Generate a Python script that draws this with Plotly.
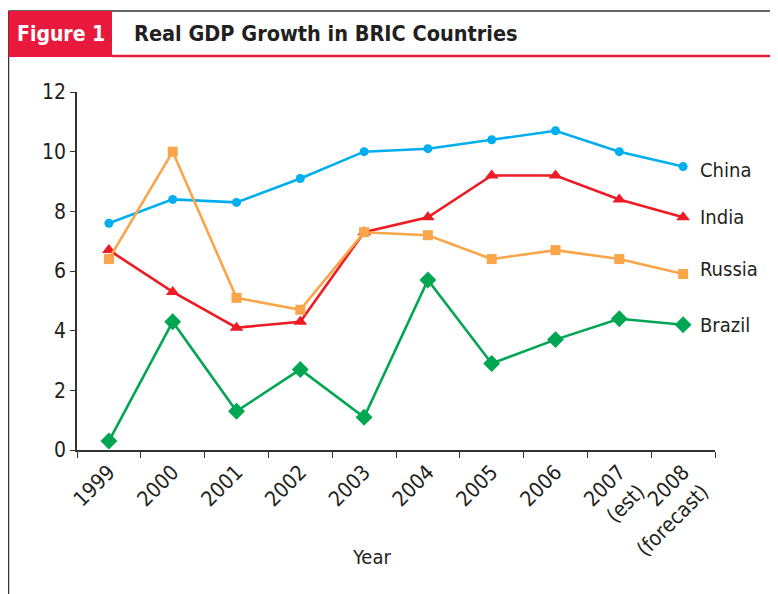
import plotly.graph_objects as go

years = ["1999", "2000", "2001", "2002", "2003", "2004", "2005", "2006",
         "2007<br>(est)", "2008<br>(forecast)"]
china = [7.6, 8.4, 8.3, 9.1, 10.0, 10.1, 10.4, 10.7, 10.0, 9.5]
india = [6.7, 5.3, 4.1, 4.3, 7.3, 7.8, 9.2, 9.2, 8.4, 7.8]
russia = [6.4, 10.0, 5.1, 4.7, 7.3, 7.2, 6.4, 6.7, 6.4, 5.9]
brazil = [0.3, 4.3, 1.3, 2.7, 1.1, 5.7, 2.9, 3.7, 4.4, 4.2]

series = [
    ("China", china, "#00aeef", "circle", 9, -3),
    ("India", india, "#ed1c24", "triangle-up", 12, 0),
    ("Russia", russia, "#f9a54a", "square", 10, 5),
    ("Brazil", brazil, "#00a651", "diamond", 13, 0),
]

FONT = "Liberation Sans Narrow, DejaVu Sans Condensed, Roboto Condensed, Roboto, sans-serif"
TXT = "#231f20"
RED = "#e8193c"

fig = go.Figure()
for name, vals, col, sym, size, dy in series:
    fig.add_trace(go.Scatter(
        x=years, y=vals, mode="lines+markers", name=name,
        line=dict(color=col, width=2.6),
        marker=dict(symbol=sym, size=size, color=col),
        cliponaxis=False, showlegend=False,
    ))
    fig.add_annotation(x=years[-1], y=vals[-1], text=name, showarrow=False,
                       xanchor="left", yanchor="middle", xshift=15, yshift=dy,
                       font=dict(family=FONT, size=20, color=TXT))

# page offset (body margin) of 8px
OFF = 8
L, R, T, B = 77, 715, 92, 450   # plot area in page pixels
W, H = 770, 586                 # figure size
def px(x):
    return (x - L) / (R - L)
def py(y):
    return (B - y) / (B - T)

shapes = [
    dict(type="line", xref="paper", yref="paper", x0=px(8.5), x1=px(800),
         y0=py(11), y1=py(11), line=dict(color="#333333", width=1.5)),
    dict(type="line", xref="paper", yref="paper", x0=px(8.5), x1=px(8.5),
         y0=py(11), y1=py(600), line=dict(color="#333333", width=1.5)),
    dict(type="rect", xref="paper", yref="paper", x0=px(8.5), x1=px(112),
         y0=py(57), y1=py(11), fillcolor=RED, line=dict(width=0)),
    dict(type="line", xref="paper", yref="paper", x0=px(112), x1=px(800),
         y0=py(56), y1=py(56), line=dict(color=RED, width=2.5)),
]

fig.update_layout(
    width=W, height=H,
    margin=dict(l=L - OFF, r=W - (R - OFF), t=T - OFF, b=H - (B - OFF), pad=0),
    paper_bgcolor="white", plot_bgcolor="white",
    font=dict(family=FONT, size=20, color=TXT),
    shapes=shapes,
    xaxis=dict(type="category", range=[-0.5, 9.5], tickson="boundaries",
               ticks="outside", ticklen=6, tickcolor="#333333", tickwidth=1.3,
               showline=True, linecolor="#333333", linewidth=1.5,
               showgrid=False, zeroline=False, tickangle=-45,
               tickfont=dict(family=FONT, size=21, color=TXT)),
    yaxis=dict(range=[0, 12], tickvals=[0, 2, 4, 6, 8, 10, 12],
               ticks="outside", ticklen=5, tickcolor="#333333", tickwidth=1.3,
               showline=True, linecolor="#333333", linewidth=1.5,
               showgrid=False, zeroline=False,
               tickfont=dict(family=FONT, size=21, color=TXT)),
    annotations=list(fig.layout.annotations) + [
        dict(xref="paper", yref="paper", x=px(61), y=py(34), text="<b>Figure 1</b>",
             showarrow=False, xanchor="center", yanchor="middle",
             font=dict(family=FONT, size=21, color="white")),
        dict(xref="paper", yref="paper", x=px(132), y=py(34),
             text="<b>Real GDP Growth in BRIC Countries</b>",
             showarrow=False, xanchor="left", yanchor="middle",
             font=dict(family=FONT, size=21.5, color=TXT)),
        dict(xref="paper", yref="paper", x=px(371), y=py(557), text="Year",
             showarrow=False, xanchor="center", yanchor="middle",
             font=dict(family=FONT, size=20, color=TXT)),
    ],
)

fig.write_html("out.html")
